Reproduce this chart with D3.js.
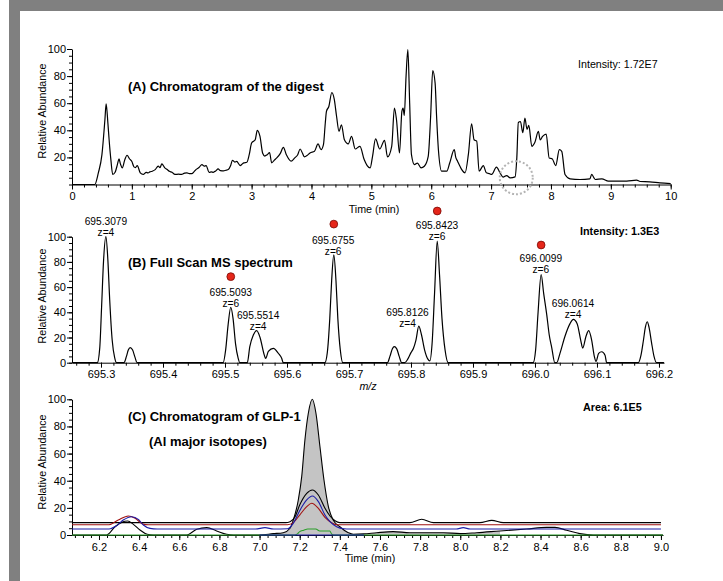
<!DOCTYPE html>
<html>
<head>
<meta charset="utf-8">
<script src="https://cdn.jsdelivr.net/npm/d3@7"></script>
<style>
  body { margin: 0; background: #fff; }
  svg text { font-family: "Liberation Sans", Arial, sans-serif; fill: #000; }
</style>
</head>
<body>
<div id="chart"></div>
<script>
// ---- panel A: chromatogram of the digest (time min, rel. abundance)
const digestTrace = [[0,0],[0.38,0],[0.44,8.6],[0.50,22],[0.55,48],[0.57,59.5],[0.60,45],[0.62,33],[0.65,18],[0.68,7.4],[0.72,9],[0.76,15],[0.785,18.9],[0.81,15],[0.84,12.3],[0.88,18],[0.92,21.6],[0.96,19],[1.0,17],[1.035,13],[1.06,12.5],[1.09,14],[1.14,8.6],[1.19,7.4],[1.24,9],[1.27,8.5],[1.30,9.3],[1.34,9.8],[1.39,11],[1.44,13.5],[1.47,12.5],[1.50,15.2],[1.55,12.3],[1.59,11],[1.625,9.8],[1.67,9],[1.72,7.4],[1.78,7.6],[1.83,7.4],[1.88,8.4],[1.92,8.6],[1.96,8],[2.0,8],[2.04,9.5],[2.07,11],[2.12,12.5],[2.17,14.7],[2.21,13.5],[2.24,14],[2.29,9],[2.33,9.3],[2.36,9],[2.40,10],[2.44,11.5],[2.48,10.2],[2.53,10],[2.57,10.5],[2.61,11],[2.65,14],[2.68,17.9],[2.72,16.5],[2.75,17],[2.81,14],[2.84,15],[2.87,16],[2.92,16.4],[2.96,22],[3.0,30.6],[3.06,33],[3.095,40],[3.14,35.5],[3.185,23],[3.22,21],[3.26,22],[3.30,23.5],[3.335,16],[3.38,18],[3.42,19.6],[3.48,23],[3.53,27.4],[3.58,22],[3.66,17.2],[3.72,19.6],[3.77,22],[3.81,26.2],[3.85,23],[3.88,20.4],[3.93,21.5],[3.975,23.3],[4.05,24.5],[4.11,30],[4.16,25.7],[4.20,29.4],[4.23,45],[4.25,54],[4.29,57.6],[4.34,67.9],[4.38,63],[4.42,50],[4.46,39.2],[4.50,44],[4.55,33],[4.615,30],[4.67,35.5],[4.73,26.2],[4.81,28.2],[4.88,18.4],[4.93,14],[4.98,12.3],[5.02,20.8],[5.07,33.6],[5.14,26.2],[5.22,32.6],[5.27,20.4],[5.34,28.2],[5.385,56.4],[5.42,47.8],[5.47,23.3],[5.51,53.9],[5.53,56.4],[5.55,51],[5.58,80],[5.61,99.5],[5.64,60],[5.67,22],[5.72,14.7],[5.77,15.8],[5.83,12.3],[5.885,13.5],[5.95,20.8],[5.99,50],[6.025,84],[6.065,74.8],[6.09,50],[6.12,25.7],[6.175,9.8],[6.26,9.8],[6.31,16],[6.385,25.7],[6.41,20],[6.44,17.2],[6.48,13.5],[6.51,11],[6.565,8.6],[6.62,22],[6.675,44.8],[6.715,33],[6.76,32],[6.80,9.8],[6.87,14],[6.92,8.6],[6.97,8],[7.01,7.4],[7.09,12.8],[7.15,8.6],[7.20,5.4],[7.26,6.6],[7.32,4.9],[7.40,5.6],[7.43,20],[7.455,45.8],[7.49,46.5],[7.53,38.2],[7.565,49],[7.60,40.7],[7.63,43.7],[7.68,28.2],[7.73,31],[7.79,39.2],[7.82,33],[7.86,35.5],[7.92,37.2],[7.97,19.6],[8.02,19],[8.08,14],[8.14,25.7],[8.18,24.5],[8.235,7.4],[8.32,4.2],[8.485,3.7],[8.65,4.2],[8.68,7.4],[8.74,3.7],[8.85,4.2],[8.96,2.5],[9.265,2.5],[9.43,3.2],[9.49,2.2],[9.65,2],[9.82,1.2],[10.0,0.7]];
const digestTimeTicks = [0,1,2,3,4,5,6,7,8,9,10];
const digestCircle = [7.42, 5]; // dotted marker around the GLP-1 elution window

// ---- panel B: full scan MS spectrum (m/z, rel. abundance)
const spectrumTrace = [[695.2532,0],[695.294,0],[695.298,12],[695.301,45],[695.304,80],[695.3079,100],[695.311,82],[695.314,50],[695.318,18],[695.322,4],[695.325,0],
  [695.337,0],[695.341,5],[695.344,10],[695.347,12],[695.351,10],[695.355,4],[695.358,0],
  [695.497,0],[695.501,10],[695.505,30],[695.5093,44],[695.513,35],[695.517,15],[695.521,4],[695.524,0],
  [695.536,0],[695.540,12.7],[695.5457,22],[695.5511,25.4],[695.5565,20],[695.5634,6],[695.5656,3.4],[695.5699,9],[695.578,11.4],[695.586,7.5],[695.5914,3.5],[695.594,0],
  [695.661,0],[695.665,8],[695.669,35],[695.672,65],[695.6755,85.5],[695.679,65],[695.682,35],[695.686,10],[695.690,0],
  [695.762,0],[695.766,5],[695.770,11],[695.773,12.7],[695.777,11],[695.781,5],[695.785,0],
  [695.790,0],[695.795,3],[695.800,8],[695.804,11.5],[695.808,18],[695.8126,29],[695.817,22],[695.822,10],[695.827,3],[695.8305,1.5],
  [695.834,15],[695.838,55],[695.8423,96.6],[695.846,70],[695.850,35],[695.855,10],[695.860,0],
  [695.997,0],[696.001,10],[696.005,40],[696.0099,70],[696.014,55],[696.019,38],[696.023,22],[696.027,12],[696.032,0],
  [696.035,0],[696.0403,7.4],[696.0484,21],[696.0565,31],[696.0618,34.4],[696.068,31],[696.0737,18],[696.077,11.6],[696.0823,21],[696.0866,25.4],[696.0914,18],[696.0957,5],[696.0984,1],[696.1027,7.4],[696.1076,8.7],[696.113,6],[696.1156,0],
  [696.1666,0],[696.171,6],[696.175,18],[696.178,28],[696.181,32.5],[696.184,28],[696.188,16],[696.192,5],[696.196,0],[696.208,0]];
const mzTicks = [695.3,695.4,695.5,695.6,695.7,695.8,695.9,696.0,696.1,696.2];
const isotopeMz = [695.5093, 695.6755, 695.8423, 696.0099];
const isotopeTheory = [68.3, 110, 120.4, 93.4];
const peakLabelMz = [695.3079, 695.5093, 695.5535, 695.6745, 695.7944, 695.842, 696.0094, 696.0613];
const peakLabelTop = [100.7, 44.4, 26.1, 85.6, 28.5, 97.5, 71.3, 35.6];
const peakLabelText = ['695.3079','695.5093','695.5514','695.6755','695.8126','695.8423','696.0099','696.0614'];
const peakLabelCharge = ['z=4','z=6','z=4','z=6','z=4','z=6','z=6','z=4'];

// ---- panel C: chromatogram of GLP-1, Al isotopes (time min, rel. abundance)
const glpSum = [[6.0655,0],[6.238,0],[6.28,6.1],[6.313,9.3],[6.343,10.3],[6.37,8],[6.404,3.7],[6.44,0.5],[6.47,0],[6.637,0],[6.687,4.2],[6.737,5.4],[6.786,3],[6.836,0.5],[6.87,0],[7.0,0],[7.068,1],[7.118,1.7],[7.152,5],[7.168,11],[7.193,25.8],[7.21,43],[7.226,70],[7.243,89.7],[7.263,100],[7.281,89.7],[7.301,65],[7.321,40.5],[7.343,20.9],[7.367,11],[7.40,6.1],[7.442,1.7],[7.467,0.5],[7.52,0.8],[7.584,1.7],[7.666,2.5],[7.749,1.7],[7.916,1.7],[8.0,1],[8.082,1.7],[8.198,3],[8.33,4.4],[8.43,5.6],[8.472,5.6],[8.53,3.5],[8.596,1],[8.663,0],[9.01,0]];
const glpIso1 = [[6.0655,9.1],[7.13,9.1],[7.152,9.8],[7.177,13.5],[7.2,22.1],[7.235,30.7],[7.263,33.2],[7.293,29.5],[7.326,19.7],[7.351,14],[7.376,10.5],[7.40,9.1],[7.749,9.1],[7.808,11.6],[7.866,9.1],[8.098,9.1],[8.157,10.8],[8.214,9.1],[9.0,9.1]];
const glpIso2 = [[6.0655,7.6],[6.25,7.6],[6.296,11],[6.346,14],[6.38,12.3],[6.42,8],[6.445,7.6],[7.14,7.6],[7.168,9.1],[7.2,14.7],[7.235,20.9],[7.26,23.4],[7.293,19.6],[7.326,13],[7.359,9.1],[7.384,7.6],[9.0,7.6]];
const glpIso3 = [[6.0655,4.4],[6.25,4.4],[6.288,6.9],[6.321,11],[6.363,13.5],[6.396,11.5],[6.421,7.4],[6.454,4.9],[6.49,4.4],[6.98,4.4],[7.027,5.4],[7.07,4.4],[7.14,4.6],[7.168,8.6],[7.2,17.9],[7.235,25.8],[7.263,28.7],[7.293,24.6],[7.326,14.7],[7.351,9.8],[7.384,6.1],[7.42,4.6],[7.45,4.4],[7.98,4.4],[8.015,5.4],[8.05,4.4],[9.0,4.4]];
const glpIso4 = [[6.0655,0],[7.175,0],[7.19,1],[7.2,2.5],[7.22,3.5],[7.24,4.4],[7.28,4.4],[7.3,3],[7.35,3],[7.36,0.5],[7.37,0],[9.01,0]];
const glpAreaRange = [7.0, 8.25];
const glpBaseline = [7.0, 7.52];
const glpTimeTicks = [6.2,6.4,6.6,6.8,7.0,7.2,7.4,7.6,7.8,8.0,8.2,8.4,8.6,8.8,9.0];

const abundanceTicks = [0,20,40,60,80,100];

const W = 723, H = 581;
const svg = d3.select('#chart').append('svg').attr('width', W).attr('height', H);

// grey frame
svg.append('rect').attr('x', 9).attr('y', 0).attr('width', 11).attr('height', H).attr('fill', '#808080');
svg.append('rect').attr('x', 9).attr('y', 0).attr('width', W - 9).attr('height', 11).attr('fill', '#808080');

function range(a, b, step) {
  const out = [];
  for (let i = 0; a + i * step <= b + 1e-9; i++) out.push(+(a + i * step).toFixed(4));
  return out;
}

function drawAxes(x, y, opts) {
  const y0 = y(0);
  const xMinor = range(opts.minorStart, x.domain()[1], opts.minorStep);
  svg.append('g').attr('transform', `translate(0,${y0})`)
    .call(d3.axisBottom(x).tickValues(xMinor).tickSize(3).tickFormat('').tickSizeOuter(0))
    .call(g => g.select('.domain').remove());
  svg.append('g').attr('transform', `translate(0,${y0})`)
    .call(d3.axisBottom(x).tickValues(opts.xTicks).tickSize(5).tickPadding(3).tickSizeOuter(0).tickFormat(opts.xFormat))
    .call(g => g.selectAll('text').attr('font-size', 11));
  svg.append('g').attr('transform', `translate(${x.range()[0]},0)`)
    .call(d3.axisLeft(y).tickValues(range(0, 100, 5)).tickSize(3).tickFormat('').tickSizeOuter(0));
  svg.append('g').attr('transform', `translate(${x.range()[0]},0)`)
    .call(d3.axisLeft(y).tickValues(opts.yTicks).tickSize(5).tickPadding(1).tickSizeOuter(0))
    .call(g => g.select('.domain').remove())
    .call(g => g.selectAll('text').attr('font-size', 11));
  svg.append('text').attr('transform', `translate(46,${opts.yTitleY}) rotate(-90)`)
    .attr('text-anchor', 'middle').attr('font-size', 10.7).text('Relative Abundance');
}

function trace(x, y) {
  return d3.line().x(d => x(d[0])).y(d => y(d[1])).curve(d3.curveMonotoneX);
}

// ===== Panel A
{
  const x = d3.scaleLinear().domain([0, 10]).range([72, 670.7]);
  const y = d3.scaleLinear().domain([0, 100]).range([184.5, 49]);
  drawAxes(x, y, { xTicks: digestTimeTicks, minorStart: 0, minorStep: 0.2, xFormat: d3.format('d'),
    yTicks: [20,40,60,80,100], yTitleY: 111 });
  svg.append('path').datum(digestTrace).attr('d', trace(x, y))
    .attr('fill', 'none').attr('stroke', '#000').attr('stroke-width', 1.2);
  svg.append('circle').attr('cx', x(digestCircle[0])).attr('cy', y(digestCircle[1])).attr('r', 16.5)
    .attr('fill', 'none').attr('stroke', '#b4b4b4').attr('stroke-width', 2).attr('stroke-dasharray', '2,2');
  svg.append('text').attr('x', 374).attr('y', 213).attr('text-anchor', 'middle').attr('font-size', 10.7).text('Time (min)');
  svg.append('text').attr('x', 128).attr('y', 90.5).attr('font-size', 13).attr('font-weight', 'bold').text('(A) Chromatogram of the digest');
  svg.append('text').attr('x', 578).attr('y', 68).attr('font-size', 10.7).text('Intensity: 1.72E7');
}

// ===== Panel B
{
  const x = d3.scaleLinear().domain([695.2532, 696.2081]).range([72, 664]);
  const y = d3.scaleLinear().domain([0, 100]).range([362.7, 236.7]);
  drawAxes(x, y, { xTicks: mzTicks, minorStart: 695.26, minorStep: 0.02, xFormat: d3.format('.1f'),
    yTicks: abundanceTicks, yTitleY: 296 });
  svg.append('path').datum(spectrumTrace).attr('d', trace(x, y))
    .attr('fill', 'none').attr('stroke', '#000').attr('stroke-width', 1.2);
  svg.selectAll('.iso').data(isotopeMz).enter().append('circle')
    .attr('cx', d => x(d)).attr('cy', (d, i) => y(isotopeTheory[i])).attr('r', 3.9)
    .attr('fill', '#e5261a').attr('stroke', '#7a0a05').attr('stroke-width', 0.8);
  const lab = svg.selectAll('.plab').data(peakLabelMz).enter().append('g')
    .attr('transform', (d, i) => `translate(${x(d)},${y(peakLabelTop[i])})`);
  lab.append('text').attr('text-anchor', 'middle').attr('y', -10.6).attr('font-size', 10.2).text((d, i) => peakLabelText[i]);
  lab.append('text').attr('text-anchor', 'middle').attr('y', 0.2).attr('font-size', 10.2).text((d, i) => peakLabelCharge[i]);
  svg.append('text').attr('x', 368).attr('y', 389.5).attr('text-anchor', 'middle').attr('font-size', 10.7)
    .attr('font-style', 'italic').text('m/z');
  svg.append('text').attr('x', 128).attr('y', 266.7).attr('font-size', 13).attr('font-weight', 'bold').text('(B) Full Scan MS spectrum');
  svg.append('text').attr('x', 580).attr('y', 235).attr('font-size', 10.8).attr('font-weight', 'bold').text('Intensity: 1.3E3');
}

// ===== Panel C
{
  const x = d3.scaleLinear().domain([6.0655, 9.0102]).range([72, 663]);
  const y = d3.scaleLinear().domain([0, 100]).range([535, 399.3]);
  const inArea = glpSum.filter(d => d[0] >= glpAreaRange[0] && d[0] <= glpAreaRange[1]);
  svg.append('path').datum(inArea)
    .attr('d', d3.area().x(d => x(d[0])).y0(y(0)).y1(d => y(d[1])).curve(d3.curveMonotoneX))
    .attr('fill', '#c4c4c4');
  drawAxes(x, y, { xTicks: glpTimeTicks, minorStart: 6.08, minorStep: 0.04, xFormat: d3.format('.1f'),
    yTicks: abundanceTicks, yTitleY: 462 });
  const series = [[glpSum, '#000'], [glpIso1, '#000'], [glpIso2, '#a11212'], [glpIso3, '#1c1ca8'], [glpIso4, '#2a9d2a']];
  series.forEach(([data, col]) => {
    svg.append('path').datum(data).attr('d', trace(x, y))
      .attr('fill', 'none').attr('stroke', col).attr('stroke-width', 1.1);
  });
  svg.append('line').attr('x1', x(glpBaseline[0])).attr('x2', x(glpBaseline[1]))
    .attr('y1', y(0)).attr('y2', y(0)).attr('stroke', '#1c1ca8').attr('stroke-width', 1.2);
  svg.append('text').attr('x', 370).attr('y', 562).attr('text-anchor', 'middle').attr('font-size', 10.7).text('Time (min)');
  svg.append('text').attr('x', 128).attr('y', 421.4).attr('font-size', 13).attr('font-weight', 'bold').text('(C) Chromatogram of GLP-1');
  svg.append('text').attr('x', 149).attr('y', 446.4).attr('font-size', 13).attr('font-weight', 'bold').text('(Al major isotopes)');
  svg.append('text').attr('x', 583).attr('y', 411.2).attr('font-size', 10.8).attr('font-weight', 'bold').text('Area: 6.1E5');
}
</script>
</body>
</html>
